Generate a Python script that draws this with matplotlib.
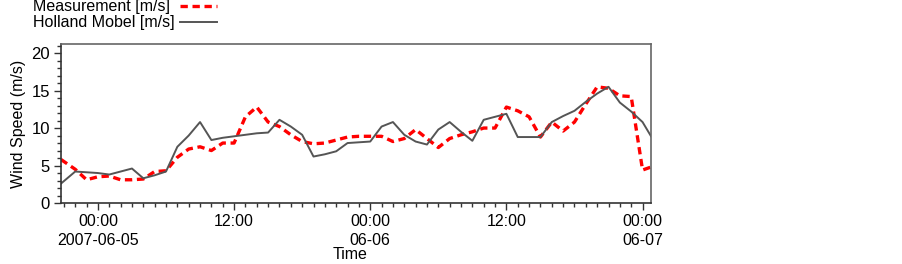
import matplotlib
matplotlib.use("Agg")
import matplotlib.pyplot as plt
import matplotlib.dates as mdates
from matplotlib.lines import Line2D
from matplotlib.ticker import MultipleLocator
import pandas as pd

plt.rcParams['font.family'] = ['Liberation Sans', 'DejaVu Sans']

# hours after 2007-06-05 00:00
hours = [-3.25, -2, -1, 0, 1, 2, 3, 4, 5, 6, 7, 8, 9, 10, 11, 12, 13, 14, 15, 16,
         17, 18, 19, 20, 21, 22, 23, 24, 25, 26, 27, 28, 29, 30, 31, 32, 33, 34,
         35, 36, 37, 38, 39, 40, 41, 42, 43, 44, 45, 46, 47, 48, 48.75]

measurement = [5.8, 4.5, 3.1, 3.5, 3.6, 3.1, 3.1, 3.2, 4.2, 4.3, 6.1, 7.2, 7.5, 7.0,
               8.0, 8.0, 11.5, 12.8, 10.8, 10.2, 9.1, 8.2, 7.9, 8.0, 8.4, 8.8, 8.9,
               8.9, 8.9, 8.2, 8.6, 9.8, 8.6, 7.4, 8.6, 9.1, 9.5, 10.0, 10.0, 12.8,
               12.3, 11.5, 8.8, 10.8, 9.6, 10.8, 13.2, 15.5, 15.3, 14.3, 14.2, 4.4, 4.8]

holland = [2.6, 4.2, 4.1, 4.0, 3.8, 4.2, 4.6, 3.3, 3.7, 4.2, 7.5, 9.0, 10.8, 8.4,
           8.7, 8.9, 9.1, 9.3, 9.4, 11.1, 10.2, 9.1, 6.2, 6.5, 6.9, 8.0, 8.1, 8.2,
           10.2, 10.8, 9.1, 8.2, 7.8, 9.8, 10.8, 9.5, 8.3, 11.1, 11.5, 11.9, 8.8,
           8.8, 8.8, 10.8, 11.6, 12.3, 13.5, 14.6, 15.5, 13.4, 12.2, 10.8, 8.9]

base = pd.Timestamp("2007-06-05 00:00")
times = [base + pd.Timedelta(hours=h) for h in hours]

tick_hours = [0, 12, 24, 36, 48]
tick_labels = ["00:00\n2007-06-05", "12:00", "00:00\n06-06", "12:00", "00:00\n06-07"]

fs = 11.5
red_style = dict(color='#ff0000', lw=2.4, linestyle=(0, (2.2, 1.4)))
gray_style = dict(color='#555555', lw=1.4)

fig = plt.figure(figsize=(9.03, 2.64), dpi=100)
ax = fig.add_axes([0.0676, 0.231, 0.6534, 0.602])

ax.plot(times, measurement, **red_style)
ax.plot(times, holland, **gray_style)

ax.set_xlim(times[0], times[-1])
ax.set_ylim(0, 21.2)

ax.set_xticks([base + pd.Timedelta(hours=h) for h in tick_hours])
ax.set_xticklabels(tick_labels, fontsize=fs, linespacing=1.3)
ax.xaxis.set_minor_locator(mdates.HourLocator())
ax.yaxis.set_major_locator(MultipleLocator(5))
ax.yaxis.set_minor_locator(MultipleLocator(1))
ax.tick_params(axis='y', labelsize=fs + 0.5)

ax.tick_params(which='major', length=5, width=1, color='#333333', pad=3)
ax.tick_params(which='minor', length=3, width=1, color='#333333')

for side in ['left', 'bottom']:
    ax.spines[side].set_color('#333333')
    ax.spines[side].set_linewidth(1.2)
for side in ['top', 'right']:
    ax.spines[side].set_color('#666666')
    ax.spines[side].set_linewidth(1.2)

ax.set_ylabel('Wind Speed (m/s)', fontsize=fs)
ax.yaxis.set_label_coords(-0.059, 0.5)
ax.set_xlabel('Time', fontsize=fs)
ax.xaxis.set_label_coords(0.49, -0.275)

# legend: labels left-aligned, line samples after them
W, H = 903, 264
legend_items = [('Measurement [m/s]', red_style, 6), ('Holland Mobel [m/s]', gray_style, 22)]
for label, style, ypix in legend_items:
    yf = 1 - ypix / H
    fig.text(33 / W, yf, label, fontsize=fs, ha='left', va='center')
    fig.add_artist(Line2D([180 / W, 217 / W], [yf, yf], transform=fig.transFigure, **style))

fig.savefig('out.png', dpi=100)
